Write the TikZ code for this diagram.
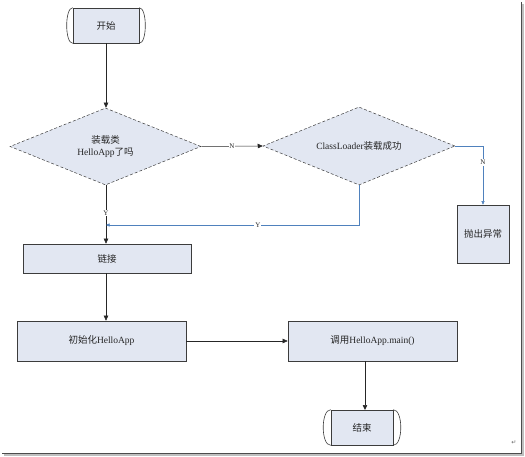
\documentclass[tikz,border=0pt]{standalone}
\usepackage{fontspec}
\setmainfont{Liberation Serif}
\newfontfamily\cjk{Noto Sans CJK SC}
\newfontfamily\dejavu{DejaVu Sans}
\usetikzlibrary{shapes.geometric,arrows.meta}
\definecolor{boxfill}{RGB}{226,231,242}
\definecolor{lineblue}{RGB}{79,129,189}
\definecolor{edgegray}{RGB}{60,60,60}
\begin{document}
\begin{tikzpicture}[x=1pt,y=-1pt,
  every node/.style={font=\fontsize{9.5}{12}\selectfont, text=black!85},
  procbox/.style={rectangle, draw=edgegray, fill=boxfill, line width=0.6pt, inner sep=0pt, align=center},
  decbox/.style={diamond, aspect=2.5, draw=edgegray, fill=boxfill, line width=0.5pt, densely dashed, inner sep=0pt, align=center},
  termbox/.style={rectangle, draw=edgegray, fill=boxfill, line width=0.6pt, inner sep=0pt, minimum height=35pt},
  flow/.style={draw=black!85, line width=0.5pt, -{Triangle[length=5pt,width=4.5pt]}},
  bflow/.style={draw=lineblue, line width=0.5pt, -{Triangle[length=3.5pt,width=3pt]}},
  lbl/.style={fill=white, inner sep=0.8pt, font=\fontsize{7}{7}\selectfont}
]
\useasboundingbox (0,0) rectangle (525,457);
% frame shadow
\draw[black!25, line width=1.2pt] (523,4) -- (523,455) -- (4,455);
\draw[black!70, line width=1pt] (521,2) -- (521,453) -- (2,453);

% terminals
\node[termbox, minimum width=66pt] (start) at (106,25.5) {\cjk 开始};
\draw[edgegray, line width=0.6pt] (start.north west) .. controls +(-8pt,0) and +(-8pt,0) .. (start.south west);
\draw[edgegray, line width=0.6pt] (start.north east) .. controls +(8pt,0) and +(8pt,0) .. (start.south east);

\node[termbox, minimum width=62pt] (end) at (362,427.5) {\cjk 结束};
\draw[edgegray, line width=0.6pt] (end.north west) .. controls +(-10pt,0) and +(-10pt,0) .. (end.south west);
\draw[edgegray, line width=0.6pt] (end.north east) .. controls +(10pt,0) and +(10pt,0) .. (end.south east);

% decisions
\node[decbox, minimum width=191pt, minimum height=77pt] (d1) at (105.5,146.5) {{\cjk 装载类}\\HelloApp{\cjk 了吗}};
\node[decbox, minimum width=192pt, minimum height=78pt] (d2) at (359,146) {ClassLoader{\cjk 装载成功}};

% process boxes
\node[procbox, minimum width=52pt, minimum height=58pt] (exc) at (483,234) {\cjk 抛出异常};
\node[procbox, minimum width=168pt, minimum height=29pt] (link) at (107,258.5) {\cjk 链接};
\node[procbox, minimum width=169pt, minimum height=40pt] (init) at (101.5,341) {{\cjk 初始化}HelloApp};
\node[procbox, minimum width=169pt, minimum height=40pt] (call) at (372.5,341) {{\cjk 调用}HelloApp.main()};

\coordinate (yj) at (106,225);

% connectors
\draw[flow] (start.south) -- (start.south |- d1.north);
\draw[flow] (d1.east) -- node[lbl] {N} (d2.west);
\draw[bflow] (d2.east) -| node[lbl, pos=0.64] {N} (exc.north);
\draw[flow] (d1.south -| yj) -- node[lbl, pos=0.47] {Y} (yj |- link.north);
\draw[bflow] (d2.south) |- node[lbl, pos=0.7] {Y} (yj);
\draw[flow] (link.south -| yj) -- (yj |- init.north);
\draw[flow] (init.east) -- (call.west);
\draw[flow] (365,361) -- (365,410);

\node[text=black!60, font=\dejavu\fontsize{6}{6}\selectfont] (para) at (514,443) {↵};
\end{tikzpicture}
\end{document}
